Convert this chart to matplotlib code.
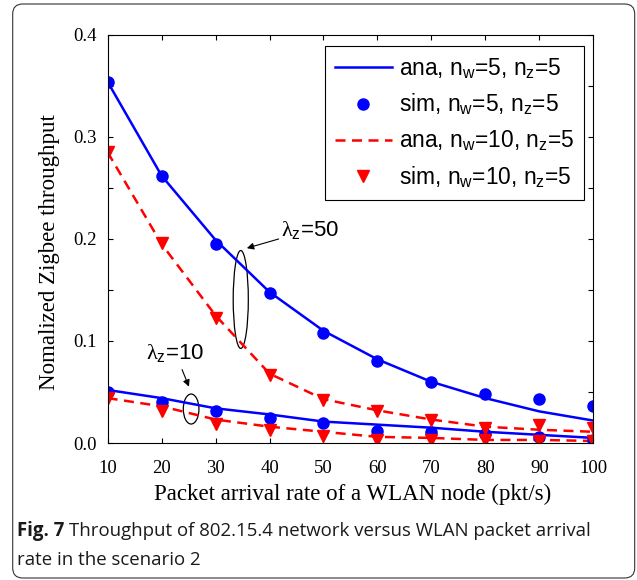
import matplotlib
matplotlib.use("Agg")
import matplotlib.pyplot as plt
from matplotlib.patches import Ellipse, FancyBboxPatch

# ==============================
# Data
# ==============================
rate = [10, 20, 30, 40, 50, 60, 70, 80, 90, 100]

# lambda_z = 50
ana_w5_hi  = [0.354, 0.262, 0.199, 0.148, 0.110, 0.082, 0.060, 0.044, 0.031, 0.022]
sim_w5_hi  = [0.354, 0.262, 0.195, 0.147, 0.108, 0.080, 0.060, 0.048, 0.043, 0.036]
ana_w10_hi = [0.285, 0.195, 0.125, 0.068, 0.043, 0.032, 0.023, 0.016, 0.013, 0.011]
sim_w10_hi = [0.285, 0.196, 0.123, 0.067, 0.042, 0.031, 0.023, 0.015, 0.018, 0.015]

# lambda_z = 10
ana_w5_lo  = [0.052, 0.044, 0.034, 0.028, 0.021, 0.018, 0.015, 0.011, 0.008, 0.005]
sim_w5_lo  = [0.050, 0.040, 0.031, 0.025, 0.020, 0.012, 0.011, 0.009, 0.006, 0.003]
ana_w10_lo = [0.044, 0.036, 0.023, 0.016, 0.011, 0.006, 0.005, 0.003, 0.003, 0.002]
sim_w10_lo = [0.044, 0.031, 0.019, 0.013, 0.007, 0.003, 0.003, 0.003, 0.002, 0.002]

labels = [r"ana, n$_\mathrm{w}$=5, n$_\mathrm{z}$=5",
          r"sim, n$_\mathrm{w}$=5, n$_\mathrm{z}$=5",
          r"ana, n$_\mathrm{w}$=10, n$_\mathrm{z}$=5",
          r"sim, n$_\mathrm{w}$=10, n$_\mathrm{z}$=5"]

# ==============================
# Style
# ==============================
plt.rcParams['mathtext.fontset'] = 'custom'
plt.rcParams['mathtext.rm'] = 'Liberation Sans'
plt.rcParams['mathtext.it'] = 'Liberation Serif'
plt.rcParams['font.family'] = ['Liberation Serif', 'DejaVu Sans']

BLUE = '#0000ff'
RED = '#ff0000'
SANS = 'Liberation Sans'

fig = plt.figure(figsize=(6.37, 5.8), dpi=100)
ax = fig.add_axes([0.169, 0.2362, 0.7623, 0.7035])

# --- analytic curves ---
ax.plot(rate, ana_w5_hi, color=BLUE, lw=1.8, label=labels[0])
ax.plot(rate, ana_w5_lo, color=BLUE, lw=1.8)
ax.plot(rate, ana_w10_hi, color=RED, lw=1.8, ls=(0, (4, 2.6)), label=labels[2])
ax.plot(rate, ana_w10_lo, color=RED, lw=1.8, ls=(0, (4, 2.6)))

# --- simulation markers ---
ax.plot(rate, sim_w5_hi, 'o', color=BLUE, ms=8, label=labels[1])
ax.plot(rate, sim_w5_lo, 'o', color=BLUE, ms=8)
ax.plot(rate, sim_w10_hi, 'v', color=RED, ms=8.5, label=labels[3])
ax.plot(rate, sim_w10_lo, 'v', color=RED, ms=8.5)

ax.set_xlim(10, 100)
ax.set_ylim(0, 0.4)
ax.set_xticks(range(10, 101, 10))
ax.set_yticks([0.0, 0.1, 0.2, 0.3, 0.4])
ax.set_yticks([0.05, 0.15, 0.25, 0.35], minor=True)
ax.set_yticklabels(['0.0', '0.1', '0.2', '0.3', '0.4'])
ax.tick_params(which='both', direction='in', top=True, right=True,
               length=3.8, width=0.8, labelsize=13.5)
ax.tick_params(axis='x', pad=12)
ax.tick_params(axis='y', pad=8)
for sp in ax.spines.values():
    sp.set_linewidth(0.8)

# --- legend ---
h, l = ax.get_legend_handles_labels()
order = [l.index(lab) for lab in labels]
leg = ax.legend([h[i] for i in order], [l[i] for i in order],
                loc='upper right', bbox_to_anchor=(0.981, 0.973),
                borderaxespad=0, fancybox=False, framealpha=1,
                edgecolor='black', handlelength=2.5, handletextpad=0.3,
                labelspacing=0.5, borderpad=0.45,
                prop={'family': SANS, 'size': 16.4})
leg.get_frame().set_linewidth(0.8)

# --- lambda annotations ---
ax.add_patch(Ellipse((34.67, 0.1407), 2.8, 0.096, fill=False, ec='black', lw=0.9))
ax.add_patch(Ellipse((25.47, 0.0333), 2.9, 0.0294, fill=False, ec='black', lw=0.9))
ax.annotate(r"$\lambda_\mathrm{z}$=50", xy=(35.8, 0.191), xytext=(42.2, 0.209),
            fontsize=16, family=SANS, va='center', ha='left',
            arrowprops=dict(arrowstyle='-|>', color='black', lw=0.8,
                            shrinkA=0, shrinkB=0, mutation_scale=10))
ax.annotate(r"$\lambda_\mathrm{z}$=10", xy=(25.07, 0.0552), xytext=(17.2, 0.088),
            fontsize=16, family=SANS, va='center', ha='left',
            arrowprops=dict(arrowstyle='-|>', color='black', lw=0.8,
                            shrinkA=2, shrinkB=0, mutation_scale=10))

# --- axis labels ---
fig.text(353 / 637, 1 - 500 / 580, 'Packet arrival rate of a WLAN node (pkt/s)',
         ha='center', va='baseline', fontsize=16.5)
fig.text(50 / 637, 1 - 252 / 580, 'Nomalized Zigbee throughput',
         ha='center', va='center', rotation=90, fontsize=16.5)

# --- caption and frame ---
frame = FancyBboxPatch((0.127, 0.02), 6.22, 5.74,
                       boxstyle='round,pad=0,rounding_size=0.1',
                       transform=fig.dpi_scale_trans, fill=False,
                       ec='#333333', lw=0.8)
fig.add_artist(frame)

cap_font = 'Open Sans'
cap_size = 13.4
t1 = fig.text(17 / 637, 1 - 536 / 580, 'Fig. 7', fontsize=cap_size,
              family=cap_font, weight='bold', va='baseline', color='#1a1a1a')
fig.canvas.draw()
bb = t1.get_window_extent()
fig.text(bb.x1 / 637 + 0.007, 1 - 536 / 580,
         'Throughput of 802.15.4 network versus WLAN packet arrival',
         fontsize=cap_size, family=cap_font, va='baseline', color='#1a1a1a')
fig.text(17 / 637, 1 - 565 / 580, 'rate in the scenario 2',
         fontsize=cap_size, family=cap_font, va='baseline', color='#1a1a1a')

fig.savefig('out.png', dpi=100)
